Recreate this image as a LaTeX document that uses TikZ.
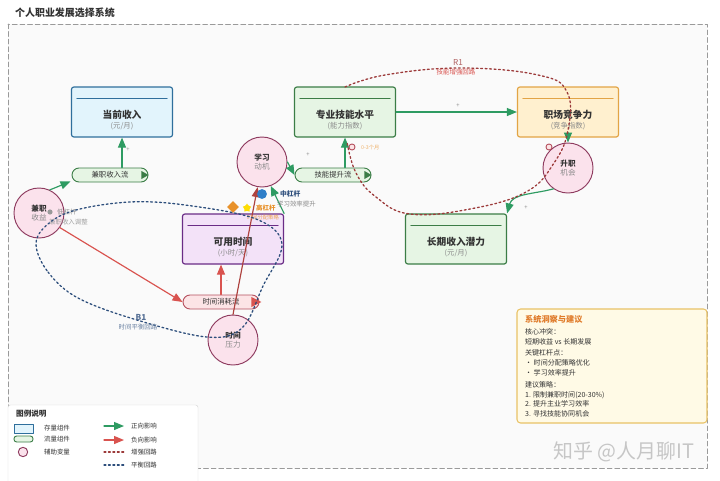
\documentclass[tikz,border=0pt]{standalone}
\usepackage{fontspec}
\setmainfont{Noto Sans CJK SC}
\usetikzlibrary{arrows.meta,shapes.geometric}

% colours
\definecolor{bgwhite}{HTML}{FFFFFF}
\definecolor{panel}{HTML}{FAFAFA}
\definecolor{framegray}{HTML}{9A9A9A}
\definecolor{titlegray}{HTML}{333333}
\definecolor{unitgray}{HTML}{8A8A8A}
\definecolor{blueline}{HTML}{2F6F9C}
\definecolor{bluefill}{HTML}{E2F4FC}
\definecolor{greenline}{HTML}{3B7D46}
\definecolor{greenfill}{HTML}{E6F5E4}
\definecolor{orangeline}{HTML}{E2A445}
\definecolor{orangefill}{HTML}{FFF0CF}
\definecolor{purpleline}{HTML}{6A2C86}
\definecolor{purplefill}{HTML}{F3E2F8}
\definecolor{pinkline}{HTML}{B5505E}
\definecolor{pinkfill}{HTML}{FCE4E6}
\definecolor{auxline}{HTML}{8E3B5F}
\definecolor{auxfill}{HTML}{FBE2EC}
\definecolor{posgreen}{HTML}{2E9B62}
\definecolor{negred}{HTML}{D9534F}
\definecolor{r1red}{HTML}{9C3A3A}
\definecolor{b1blue}{HTML}{2D4E7C}
\definecolor{insline}{HTML}{E9C266}
\definecolor{insfill}{HTML}{FFFAE6}
\definecolor{insorange}{HTML}{E07B2A}
\definecolor{levorange}{HTML}{E8912A}
\definecolor{levblue}{HTML}{2F7FC9}

\tikzset{
  stock/.style={draw, rounded corners=2pt, line width=1pt,
    minimum width=30.3mm, minimum height=15mm, inner sep=0pt},
  flow/.style={draw, rounded corners=2.1mm, line width=0.8pt,
    minimum width=22.8mm, minimum height=4.2mm, inner sep=0pt,
    font=\fontsize{6.3}{7}\selectfont, text=titlegray},
  aux/.style={circle, draw=auxline, fill=auxfill, line width=0.8pt,
    minimum size=15mm, inner sep=0pt, align=center,
    font=\fontsize{6.5}{8}\selectfont, text=titlegray},
  posarrow/.style={draw=posgreen, line width=1pt, -{Triangle[length=3mm,width=2.4mm]}},
  negarrow/.style={draw=negred, line width=1pt, -{Triangle[length=3mm,width=2.4mm]}},
  r1loop/.style={draw=r1red, line width=1.1pt, dash pattern=on 1.6pt off 2.2pt},
  b1loop/.style={draw=b1blue, line width=1.1pt, dash pattern=on 1.6pt off 2.2pt},
  signtext/.style={font=\fontsize{5}{6}\selectfont, text=unitgray},
  stocktitle/.style={font=\fontsize{8.3}{9}\selectfont\bfseries, text=titlegray},
  stockunit/.style={font=\fontsize{6.3}{7}\selectfont, text=unitgray},
  levtext/.style={font=\fontsize{5.5}{6}\selectfont, anchor=west},
  legendtext/.style={font=\fontsize{5.5}{6}\selectfont, text=titlegray, anchor=west},
  instext/.style={font=\fontsize{6}{7}\selectfont, text=titlegray, anchor=west}
}

% stock box with its rule, title and unit
\newcommand\stockbox[6]{%
  \node[stock, draw=#4line, fill=#4fill] (#1) at (#2,#3) {};
  \draw[#4line, line width=0.8pt] ([shift={(6,12)}]#1.north west) -- ([shift={(-6,12)}]#1.north east);
  \node[stocktitle] (#1-title) at ([shift={(0,3)}]#1.center) {#5};
  \node[stockunit] (#1-unit) at ([shift={(0,14)}]#1.center) {#6};
}

\begin{document}
\begin{tikzpicture}[x=0.3mm, y=-0.3mm, line cap=round, line join=round]

% -----------------------
% Canvas and frame
% -----------------------
\useasboundingbox (0,0) rectangle (720,480);
\fill[bgwhite] (0,0) rectangle (720,480);
\fill[panel] (8,24) rectangle (707,468);
\draw[framegray, line width=0.8pt, dash pattern=on 4pt off 2.5pt] (8,24) rectangle (707,468);
\node[anchor=west, font=\fontsize{8.5}{10}\selectfont\bfseries, text=titlegray] (title) at (11,13) {个人职业发展选择系统};

% -----------------------
% Stocks
% -----------------------
\stockbox{income}{122}{112}{blue}{当前收入}{(元/月)}
\stockbox{skill}{345}{112}{green}{专业技能水平}{(能力指数)}
\stockbox{compete}{568}{112}{orange}{职场竞争力}{(竞争指数)}
\stockbox{time}{233}{239}{purple}{可用时间}{(小时/天)}
\stockbox{potential}{456}{239}{green}{长期收入潜力}{(元/月)}

% -----------------------
% Flows
% -----------------------
\node[flow, draw=greenline, fill=greenfill] (parttimeflow) at (110,175) {兼职收入流};
\node[flow, draw=greenline, fill=greenfill] (skillflow) at (333,175) {技能提升流};
\node[flow, draw=pinkline, fill=pinkfill] (timeflow) at (221,302) {时间消耗流};

% outflow tips
\fill[greenline] ([shift={(-7,-4)}]parttimeflow.east) -- ([shift={(0,0)}]parttimeflow.east) -- ([shift={(-7,4)}]parttimeflow.east) -- cycle;
\fill[greenline] ([shift={(-7,-4)}]skillflow.east) -- ([shift={(0,0)}]skillflow.east) -- ([shift={(-7,4)}]skillflow.east) -- cycle;
\fill[negred] ([shift={(-8,-5)}]timeflow.east) -- ([shift={(2,0)}]timeflow.east) -- ([shift={(-8,5)}]timeflow.east) -- cycle;

% -----------------------
% Auxiliary variables
% -----------------------
\node[aux] (parttime) at (39,213) {\textbf{兼职}\\[-1pt]{\color{unitgray}收益}};
\node[aux] (motive) at (262,162) {\textbf{学习}\\[-1pt]{\color{unitgray}动机}};
\node[aux] (promote) at (568,168) {\textbf{升职}\\[-1pt]{\color{unitgray}机会}};
\node[aux] (pressure) at (233,340) {\textbf{时间}\\[-1pt]{\color{unitgray}压力}};

% -----------------------
% Causal links
% -----------------------
\draw[posarrow] (parttimeflow.north -| income.south) -- (income.south);
\node[signtext] (s1) at (128,150) {+};
\draw[posarrow] (parttime.65) -- ([shift={(-1,-1)}]parttimeflow.south west);
\draw[negarrow] (parttime.-35) -- (timeflow.west);
\draw[negarrow] (timeflow.north) -- (timeflow.north |- time.south);
\node[signtext] (s2) at (227,282) {-};
\draw[negarrow, draw=negred!80!black] (pressure.north) -- (motive.-100);
\draw[posarrow] (time.north east) -- (motive.-70);
\draw[posarrow] (motive.east) -- (skillflow.west);
\node[signtext] (s3) at (308,155) {+};
\draw[posarrow] (skill.south |- skillflow.north) -- (skill.south);
\draw[posarrow] (skill.east) -- (compete.west);
\node[signtext] (s4) at (458,106) {+};
\draw[posarrow] (compete.south) -- (promote.north);
\draw[posarrow] (promote.-125) to[out=195, in=75] (potential.north east);
\node[signtext] (s5) at (526,208) {+};

% -----------------------
% Leverage points and delays
% -----------------------
\fill[gray!80] (50,212) circle (2.2pt);
\node[levtext, text=unitgray] (lowlev) at (53,212) {低杠杆};
\node[levtext, text=unitgray!80] (lowlevnote) at (45,222) {兼职收入调整};
\node[diamond, fill=levorange, inner sep=0pt, minimum size=3.6mm] (highmark) at (233,207) {};
\node[star, star points=5, fill=yellow!80!orange, inner sep=0pt, minimum size=2.6mm] (highstar) at (247,208) {};
\node[levtext, text=levorange, font=\fontsize{5.5}{6}\selectfont\bfseries] (highlev) at (252,208) {高杠杆};
\node[levtext, text=levorange!80, font=\fontsize{4.5}{5}\selectfont] (highlevnote) at (243,217) {时间分配策略};
\fill[levblue] (262,194) circle (4.2pt);
\node[levtext, text=b1blue, font=\fontsize{5.8}{6}\selectfont\bfseries] (midlev) at (276,194) {中杠杆};
\node[levtext, text=unitgray] (midlevnote) at (273,204) {学习效率提升};
\draw[pinkline, line width=0.8pt, fill=pinkfill] (352,147) circle (2.6pt);
\node[levtext, text=levorange!70, font=\fontsize{4.5}{5}\selectfont] (delay1) at (357,147) {0-3个月};
\draw[pinkline, line width=0.8pt, fill=pinkfill] (549,147) circle (2.6pt);

% -----------------------
% Feedback loops
% -----------------------
\draw[r1loop] plot[smooth, tension=0.7] coordinates {(345,87) (385,75) (460,68) (538,75) (567,92) (568,130) (554,163) (526,192) (470,209) (410,214) (376,197) (356,173) (347,142)};
\node[font=\fontsize{7}{8}\selectfont, text=r1red!80] (r1) at (458,62) {R1};
\node[font=\fontsize{5.5}{6}\selectfont, text=negred] (r1name) at (456,72) {技能增强回路};

\draw[b1loop] plot[smooth cycle, tension=0.6] coordinates {(36,244) (48,272) (78,298) (137,320) (207,337) (242,328) (263,286) (282,244) (256,219) (185,205) (130,202) (76,210) (48,224)};
\node[font=\fontsize{7}{8}\selectfont\bfseries, text=b1blue!80] (b1) at (141,317) {B1};
\node[font=\fontsize{5.5}{6}\selectfont, text=b1blue!70] (b1name) at (138,327) {时间平衡回路};

% -----------------------
% Legend
% -----------------------
\draw[gray!30, fill=white, rounded corners=2pt] (8,405) rectangle (198,484);
\node[anchor=west, font=\fontsize{6.5}{7}\selectfont\bfseries, text=titlegray] (legtitle) at (12,414) {图例说明};
\draw[blueline, fill=bluefill, line width=0.8pt] (14,424) rectangle (33,433);
\node[legendtext] (leg1) at (40,428) {存量组件};
\draw[greenline, fill=greenfill, line width=0.8pt, rounded corners=0.8mm] (14,436) rectangle (33,442);
\node[legendtext] (leg2) at (40,439) {流量组件};
\draw[auxline, fill=auxfill, line width=0.8pt] (23,452) circle (4pt);
\node[legendtext] (leg3) at (40,452) {辅助变量};
\foreach \y/\sty/\txt in {426/posarrow/正向影响, 440/negarrow/负向影响, 452/r1loop/增强回路, 465/b1loop/平衡回路}{
  \draw[\sty] (104,\y) -- (124,\y);
  \node[legendtext] (leg\y) at (127,\y) {\txt};
}

% -----------------------
% Insight panel
% -----------------------
\draw[insline, fill=insfill, line width=0.9pt, rounded corners=3pt] (517,309) rectangle (707,423);
\node[anchor=west, font=\fontsize{7}{8}\selectfont\bfseries, text=insorange] (institle) at (521,319) {系统洞察与建议};
\foreach \y/\txt in {332/核心冲突：, 342/短期收益 vs 长期发展, 353/关键杠杆点：, 363/• 时间分配策略优化, 373/• 学习效率提升, 385/建议策略：, 395/1. 限制兼职时间(20-30\%), 404/2. 提升主业学习效率, 414/3. 寻找技能协同机会}{
  \node[instext] (ins\y) at (521,\y) {\txt};
}

% watermark
\node[font=\fontsize{17}{20}\selectfont, text=gray!45] (mark) at (624,452) {知乎 @人月聊IT};

\end{tikzpicture}
\end{document}
